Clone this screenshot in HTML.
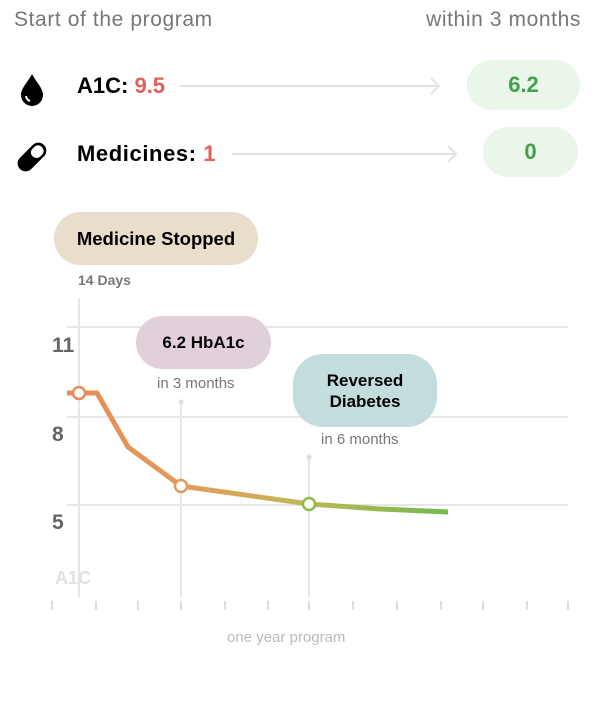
<!DOCTYPE html>
<html><head><style>
body{margin:0;width:600px;height:722px;background:#fff;font-family:"Liberation Sans",sans-serif;position:relative;overflow:hidden}
.a{position:absolute;white-space:nowrap}
.pill{position:absolute;border-radius:30px;display:flex;align-items:center;justify-content:center;font-weight:bold;text-align:center}
</style></head><body>
<div class="a" style="left:14px;top:8px;font-size:21px;letter-spacing:0.6px;color:#777">Start of the program</div>
<div class="a" style="right:19px;top:8px;font-size:21px;letter-spacing:0.6px;color:#777">within 3 months</div>

<svg class="a" style="left:0;top:0" width="600" height="722">
<path d="M32 74 C28 82 21 88 21 95 A11 11 0 0 0 43 95 C43 88 36 82 32 74Z" fill="#000"/>
<path d="M26 96 A6 6 0 0 0 30 101" stroke="#fff" stroke-width="2" fill="none"/>
<g transform="translate(32,157) rotate(-45)"><rect x="-17" y="-8" width="34" height="16" rx="8" fill="#000"/><rect x="1" y="-5.5" width="13" height="11" rx="5" fill="#fff"/></g>
<line x1="180" y1="86" x2="438" y2="86" stroke="#e2e2e2" stroke-width="2"/>
<path d="M431 78 L439 86 L431 94" stroke="#e2e2e2" stroke-width="2" fill="none"/>
<line x1="232" y1="154" x2="455" y2="154" stroke="#e2e2e2" stroke-width="2"/>
<path d="M448 146 L456 154 L448 162" stroke="#e2e2e2" stroke-width="2" fill="none"/>

<g stroke="#e6e6e6" stroke-width="2">
<line x1="67" y1="327" x2="568" y2="327"/><line x1="67" y1="417" x2="568" y2="417"/><line x1="67" y1="505" x2="568" y2="505"/>
<line x1="79" y1="298" x2="79" y2="597"/><line x1="181" y1="402" x2="181" y2="597"/><line x1="309" y1="457" x2="309" y2="597"/>
</g>
<circle cx="181" cy="402" r="2.5" fill="#ddd"/><circle cx="309" cy="457" r="2.5" fill="#ddd"/>
<g stroke="#ddd" stroke-width="2">
<line x1="52" y1="601" x2="52" y2="610"/><line x1="96" y1="601" x2="96" y2="610"/><line x1="138" y1="601" x2="138" y2="610"/><line x1="181" y1="601" x2="181" y2="610"/><line x1="225" y1="601" x2="225" y2="610"/><line x1="268" y1="601" x2="268" y2="610"/><line x1="309" y1="601" x2="309" y2="610"/><line x1="353" y1="601" x2="353" y2="610"/><line x1="397" y1="601" x2="397" y2="610"/><line x1="441" y1="601" x2="441" y2="610"/><line x1="483" y1="601" x2="483" y2="610"/><line x1="527" y1="601" x2="527" y2="610"/><line x1="568" y1="601" x2="568" y2="610"/>
</g>
<defs><linearGradient id="g" x1="67" y1="0" x2="450" y2="0" gradientUnits="userSpaceOnUse">
<stop offset="0" stop-color="#e98a58"/><stop offset="0.3" stop-color="#e39a5a"/><stop offset="0.6" stop-color="#c5b658"/><stop offset="1" stop-color="#6cbb4e"/></linearGradient></defs>
<path d="M67 393 L97 393 L128 447 L181 486 L309 504 L380 509 L448 512" stroke="url(#g)" stroke-width="5" fill="none" stroke-linejoin="round"/>
<circle cx="79" cy="393" r="6" fill="#fff" stroke="#e98a58" stroke-width="2.5"/>
<circle cx="181" cy="486" r="6" fill="#fff" stroke="#e39a5a" stroke-width="2.5"/>
<circle cx="309" cy="504" r="6" fill="#fff" stroke="#8cbc45" stroke-width="2.5"/>
</svg>

<div class="a" style="left:77px;top:73px;font-size:22px;font-weight:bold">A1C: <span style="color:#e0605a">9.5</span></div>
<div class="a" style="left:77px;top:141px;font-size:22px;font-weight:bold;letter-spacing:0.6px">Medicines: <span style="color:#e0605a">1</span></div>
<div class="pill" style="left:467px;top:60px;width:113px;height:50px;background:#eaf6ea;color:#43a04a;font-size:22px">6.2</div>
<div class="pill" style="left:483px;top:127px;width:95px;height:50px;background:#eaf6ea;color:#43a04a;font-size:22px">0</div>

<div class="pill" style="left:54px;top:212px;width:204px;height:53px;background:#e9ddcc;font-size:18.5px">Medicine Stopped</div>
<div class="a" style="left:78px;top:272px;font-size:14px;color:#777;font-weight:bold">14 Days</div>
<div class="pill" style="left:136px;top:316px;width:135px;height:53px;background:#e1d0da;font-size:17px">6.2 HbA1c</div>
<div class="a" style="left:157px;top:375px;font-size:15px;color:#777">in 3 months</div>
<div class="pill" style="left:293px;top:354px;width:144px;height:73px;background:#c3dcdc;font-size:17px;line-height:21px">Reversed<br>Diabetes</div>
<div class="a" style="left:321px;top:431px;font-size:15px;color:#777">in 6 months</div>

<div class="a" style="left:52px;top:334px;font-size:21px;color:#666;font-weight:bold">11</div>
<div class="a" style="left:52px;top:423px;font-size:21px;color:#666;font-weight:bold">8</div>
<div class="a" style="left:52px;top:511px;font-size:21px;color:#666;font-weight:bold">5</div>
<div class="a" style="left:55px;top:568px;font-size:18px;color:#e2e2e2;font-weight:bold">A1C</div>
<div class="a" style="left:227px;top:629px;font-size:15px;color:#bbb">one year program</div>
</body></html>
